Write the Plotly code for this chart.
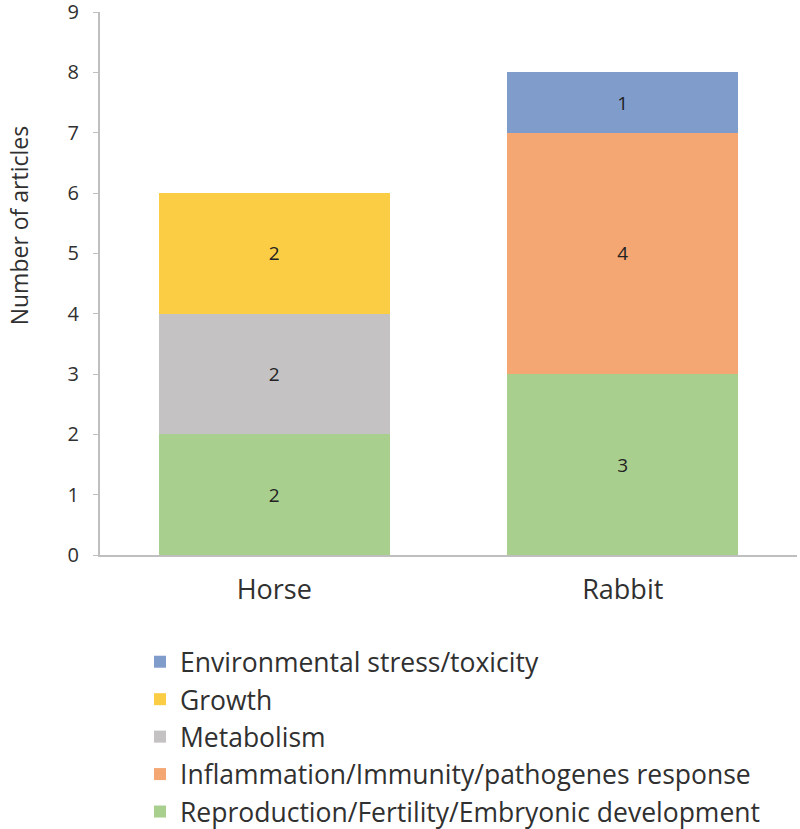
import plotly.graph_objects as go

categories = ["Horse", "Rabbit"]
series_names = [
    "Reproduction/Fertility/Embryonic development",
    "Inflammation/Immunity/pathogenes response",
    "Metabolism",
    "Growth",
    "Environmental stress/toxicity",
]
series_values = [
    [2, 3],
    [0, 4],
    [2, 0],
    [2, 0],
    [0, 1],
]
colors = ["#A9CF8E", "#F4A772", "#C4C2C2", "#FACD45", "#7F9CCB"]
y_ticks = [0, 1, 2, 3, 4, 5, 6, 7, 8, 9]
y_title = "Number of articles"

FONT = "Open Sans"
TXT = "#303030"
fig = go.Figure()
for i, (name, vals, col) in enumerate(zip(series_names, series_values, colors)):
    fig.add_trace(go.Bar(
        x=categories, y=vals, name=name,
        marker=dict(color=col, line=dict(width=0)),
        text=[str(v) if v else "" for v in vals],
        textposition="inside", insidetextanchor="middle",
        textfont=dict(family=FONT, size=19, color="#222222"),
        legendgroup=f"g{i}",
    ))

fig.update_layout(
    barmode="stack",
    bargap=0.337,
    width=800, height=829,
    margin=dict(l=100, r=3, t=12, b=274, autoexpand=False),
    plot_bgcolor="white", paper_bgcolor="white",
    font=dict(family=FONT, color=TXT),
    showlegend=True,
    legend=dict(
        orientation="v", traceorder="reversed",
        x=0.0574, xanchor="left",
        yref="container", y=0.2304, yanchor="top",
        font=dict(family=FONT, size=26.5, color=TXT),
        tracegroupgap=5,
    ),
    uniformtext=dict(mode="show", minsize=10),
    annotations=[dict(
        text=y_title, textangle=-90, xref="paper", yref="paper",
        x=-0.117, y=0.608, xanchor="center", yanchor="middle",
        showarrow=False, font=dict(family=FONT, size=23, color=TXT),
    )],
)
fig.update_xaxes(
    showline=True, linecolor="#BFBFBF", linewidth=2,
    tickfont=dict(family=FONT, size=27, color=TXT),
    ticks="", showgrid=False, ticklabelstandoff=10,
)
fig.update_yaxes(
    range=[0, 9], tickvals=y_ticks,
    showline=True, linecolor="#BFBFBF", linewidth=2,
    ticks="outside", ticklen=5, tickcolor="#BFBFBF",
    tickfont=dict(family=FONT, size=20, color=TXT),
    showgrid=False, zeroline=False, ticklabelstandoff=10,
    ticklabeloverflow="allow",
)
fig.write_html("out.html", config={"displayModeBar": False},
               post_script="document.body.style.margin='0';")
